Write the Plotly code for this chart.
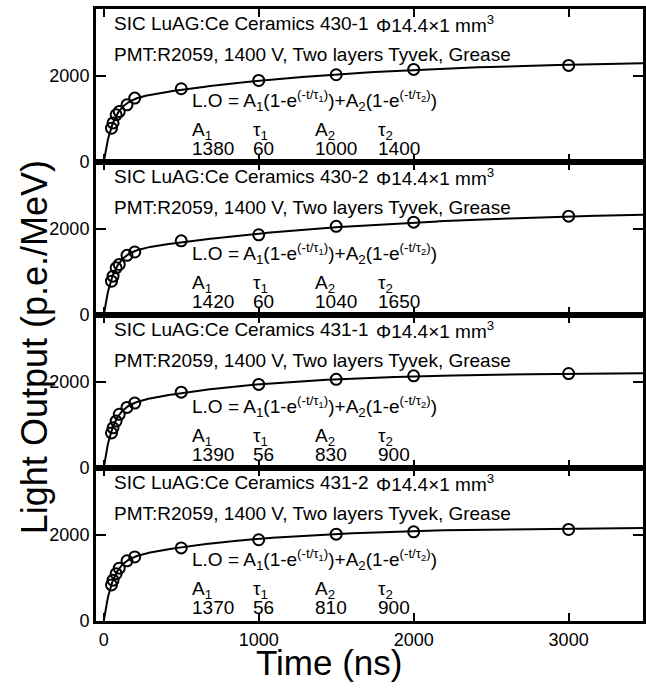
import numpy as np
import plotly.graph_objects as go
from plotly.subplots import make_subplots

# ---- data ----
time_ns = [50, 60, 80, 100, 150, 200, 500, 1000, 1500, 2000, 3000]
samples = ["430-1", "430-2", "431-1", "431-2"]
lo_430_1 = [786, 910, 1097, 1174, 1330, 1487, 1704, 1897, 2030, 2154, 2247]
lo_430_2 = [786, 903, 1098, 1176, 1388, 1466, 1725, 1866, 2063, 2160, 2300]
lo_431_1 = [816, 934, 1091, 1250, 1409, 1510, 1764, 1945, 2063, 2144, 2198]
lo_431_2 = [840, 950, 1100, 1230, 1400, 1490, 1700, 1890, 2020, 2075, 2130]
fit_A1 = [1380, 1420, 1390, 1370]
fit_tau1 = [60, 60, 56, 56]
fit_A2 = [1000, 1040, 830, 810]
fit_tau2 = [1400, 1650, 900, 900]
y_ticks = [0, 2000]
x_ticks = [0, 1000, 2000, 3000]

series = [lo_430_1, lo_430_2, lo_431_1, lo_431_2]

FONT = "Liberation Sans, Arial, Helvetica, sans-serif"
X_RANGE = [-50, 3480]
Y_RANGE = [0, 3560]
FS = 19

fig = make_subplots(rows=4, cols=1, shared_xaxes=True, vertical_spacing=0)

t_fit = np.linspace(0, X_RANGE[1], 700)
for i in range(4):
    a1, t1, a2, t2 = fit_A1[i], fit_tau1[i], fit_A2[i], fit_tau2[i]
    curve = a1 * (1 - np.exp(-t_fit / t1)) + a2 * (1 - np.exp(-t_fit / t2))
    fig.add_trace(go.Scatter(x=t_fit, y=curve, mode="lines",
                             line=dict(color="black", width=2),
                             showlegend=False, hoverinfo="skip"), row=i + 1, col=1)
    fig.add_trace(go.Scatter(x=time_ns, y=series[i], mode="markers",
                             marker=dict(symbol="circle-open", size=11,
                                         color="black", line=dict(width=2, color="black")),
                             showlegend=False), row=i + 1, col=1)

annotations = []
for i in range(4):
    ax = "" if i == 0 else str(i + 1)
    yref = f"y{ax} domain"
    xref = f"x{ax}"

    def add(x, y, text, size=FS):
        annotations.append(dict(x=x, y=y, xref=xref, yref=yref, text=text,
                                showarrow=False, xanchor="left", yanchor="middle",
                                font=dict(family=FONT, size=size, color="black")))
    add(55, 0.905, f"SIC LuAG:Ce Ceramics {samples[i]}")
    add(1745, 0.905, "Φ14.4×1 mm<sup>3</sup>")
    add(55, 0.70, "PMT:R2059, 1400 V, Two layers Tyvek, Grease")
    add(555, 0.405, "L.O = A<sub>1</sub>(1-e<sup>(-t/τ<sub>1</sub>)</sup>)+A<sub>2</sub>(1-e<sup>(-t/τ<sub>2</sub>)</sup>)")
    add(555, 0.205, "A<sub>1</sub>")
    add(953, 0.205, "τ<sub>1</sub>")
    add(1351, 0.205, "A<sub>2</sub>")
    add(1754, 0.205, "τ<sub>2</sub>")
    add(555, 0.088, str(fit_A1[i]))
    add(953, 0.088, str(fit_tau1[i]))
    add(1351, 0.088, str(fit_A2[i]))
    add(1754, 0.088, str(fit_tau2[i]))

annotations.append(dict(x=(330 - 96) / 550, y=-0.067, xref="paper", yref="paper",
                        text="Time (ns)", showarrow=False, xanchor="center", yanchor="middle",
                        font=dict(family=FONT, size=35, color="black")))
annotations.append(dict(x=-0.113, y=1 - (347 - 9) / 612, xref="paper", yref="paper",
                        text="Light Output (p.e./MeV)", showarrow=False, textangle=-90,
                        xanchor="center", yanchor="middle",
                        font=dict(family=FONT, size=36, color="black")))

fig.update_xaxes(range=X_RANGE, tickvals=x_ticks, ticks="inside", ticklen=8, tickwidth=2,
                 tickcolor="black", showline=True, linewidth=3, linecolor="black",
                 mirror="ticks", showgrid=False, zeroline=False,
                 tickfont=dict(family=FONT, size=18, color="black"))
fig.update_yaxes(range=Y_RANGE, tickvals=y_ticks, ticks="inside", ticklen=10, tickwidth=2,
                 tickcolor="black", showline=True, linewidth=3, linecolor="black",
                 mirror="ticks", showgrid=False, zeroline=False,
                 tickfont=dict(family=FONT, size=18, color="black"))

fig.update_layout(width=646, height=689,
                  margin=dict(l=96, r=0, t=9, b=68),
                  paper_bgcolor="white", plot_bgcolor="white",
                  annotations=annotations, showlegend=False)

fig.write_html("out.html")
